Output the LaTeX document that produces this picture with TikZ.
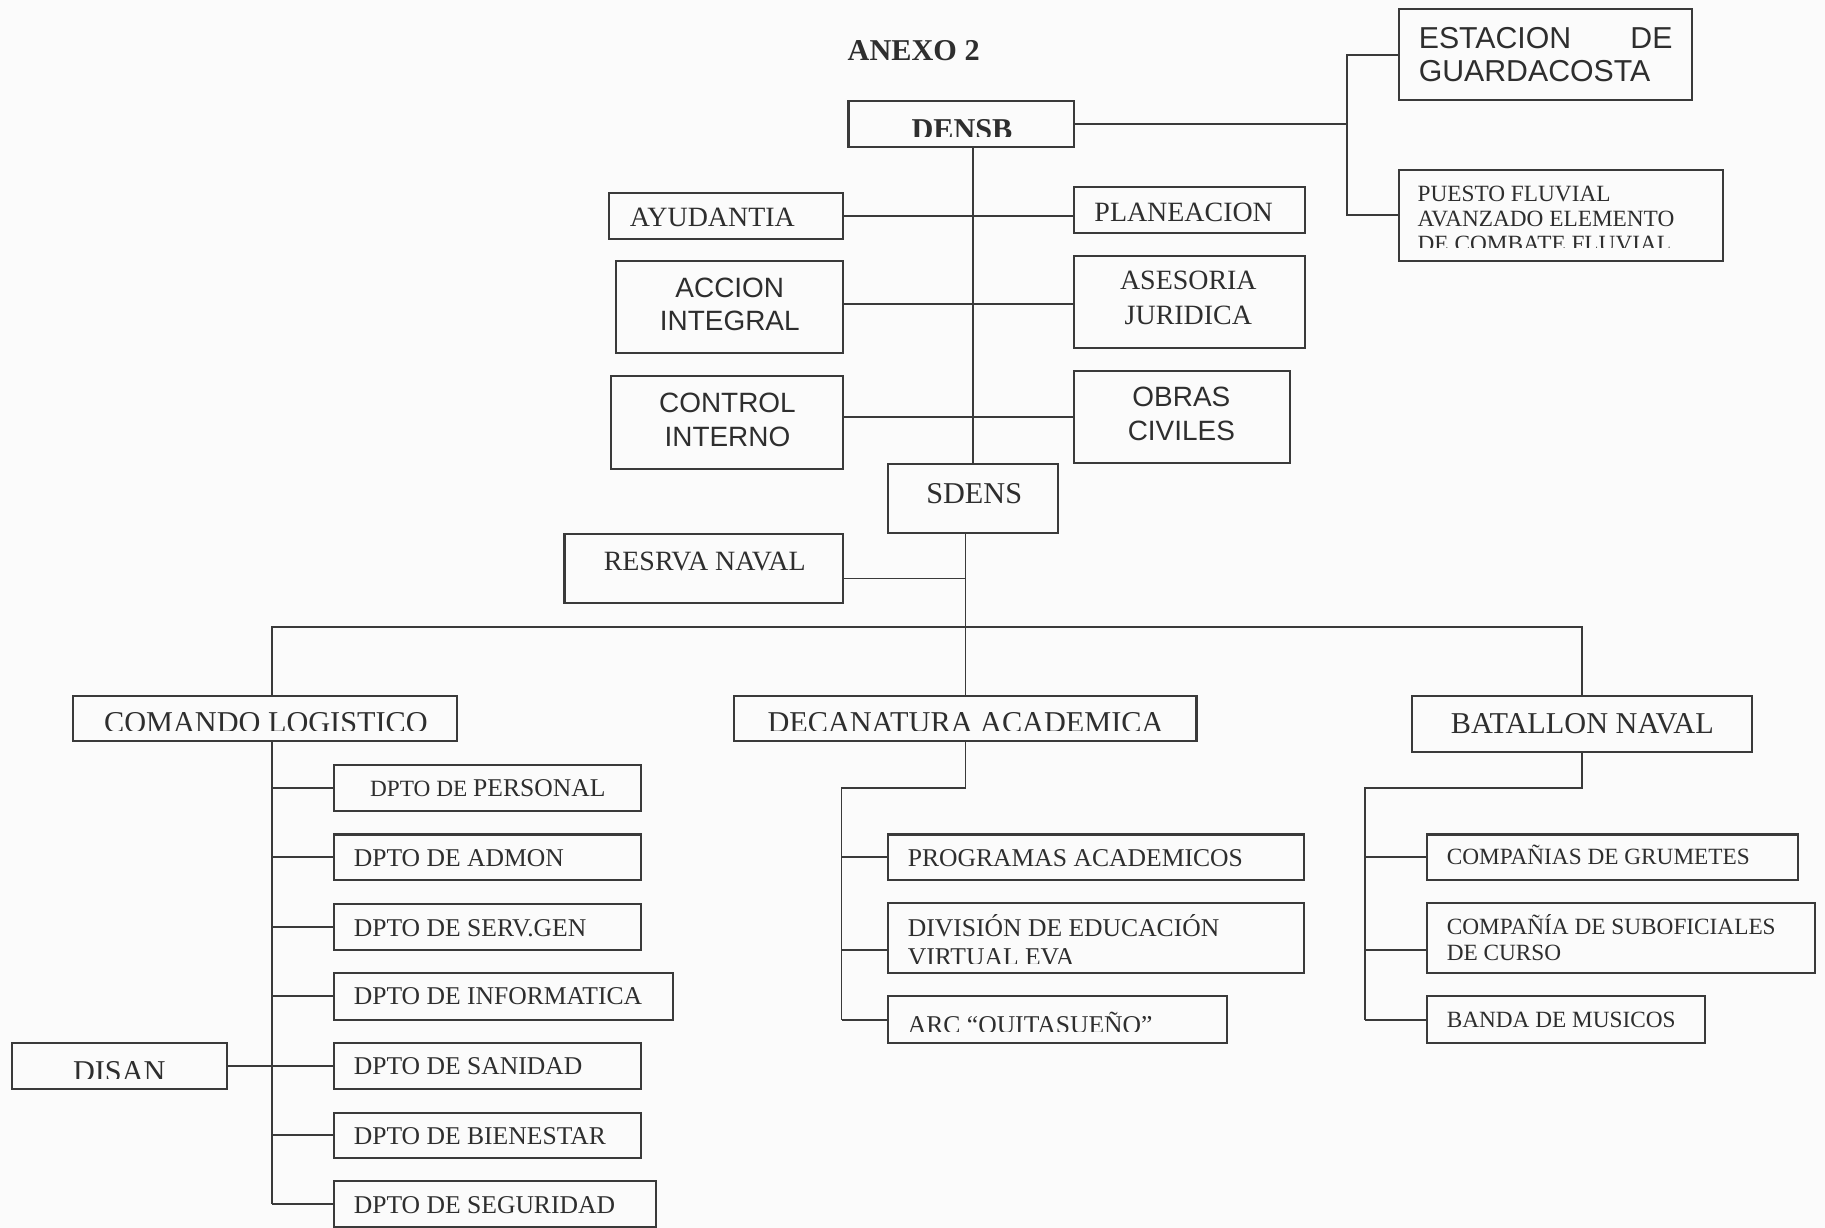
\documentclass[tikz,border=0pt]{standalone}
\usepackage{fontspec}
\setmainfont{Liberation Serif}
\newfontfamily\arialf{Liberation Sans}
\usetikzlibrary{fit}
\definecolor{ink}{HTML}{2E2E2E}
\definecolor{ln}{HTML}{3A3A3A}
\definecolor{paper}{HTML}{FBFBFB}
\tikzset{
  bx/.style={draw=ln, line width=0.9pt, inner sep=0pt, outer sep=0pt},
  cn/.style={draw=ln, line width=0.8pt},
  tx/.style={inner sep=0pt, outer sep=0pt, text=ink},
  tA/.style={tx, font=\fontsize{10}{12}\selectfont},
  tB/.style={tx, font=\fontsize{11}{13}\selectfont},
  tC/.style={tx, font=\fontsize{12}{14}\selectfont},
  tD/.style={tx, font=\fontsize{13}{15}\selectfont},
  aC/.style={tx, font=\arialf\fontsize{12}{14}\selectfont},
  aD/.style={tx, font=\arialf\fontsize{13}{15}\selectfont},
}
\newcommand\bxx[5]{\node[bx, fit={(#2,#3) (#4,#5)}] (#1) {};}
\begin{document}
\begin{tikzpicture}[x=0.5pt,y=-0.5pt]
\fill[paper] (0,0) rectangle (1568,1055);
\useasboundingbox (0,0) rectangle (1568,1055);

% ---------- boxes ----------
\bxx{densb}{729}{87}{923}{126}
\bxx{est}{1202}{8}{1454}{86}
\bxx{pue}{1202}{146}{1480}{224}
\bxx{ayud}{523}{166}{724}{205}
\bxx{plan}{923}{161}{1121}{200}
\bxx{acc}{529}{224}{724}{303}
\bxx{ases}{923}{220}{1121}{299}
\bxx{ctrl}{525}{323}{724}{403}
\bxx{obras}{923}{319}{1108}{398}
\bxx{sdens}{763}{399}{909}{458}
\bxx{res}{485}{459}{724}{518}
\bxx{com}{63}{598}{393}{637}
\bxx{deca}{631}{598}{1028}{637}
\bxx{bat}{1213}{598}{1505}{646}
\bxx{per}{287}{657}{551}{697}
\bxx{adm}{287}{717}{551}{756}
\bxx{serv}{287}{777}{551}{816}
\bxx{inf}{287}{836}{578}{876}
\bxx{san}{287}{896}{551}{936}
\bxx{bie}{287}{956}{551}{995}
\bxx{segu}{287}{1015}{564}{1054}
\bxx{disan}{10}{896}{195}{936}
\bxx{prog}{763}{717}{1120}{756}
\bxx{div}{763}{776}{1120}{836}
\bxx{arc}{763}{856}{1054}{896}
\bxx{grum}{1226}{717}{1545}{756}
\bxx{sub}{1226}{776}{1559}{836}
\bxx{banda}{1226}{856}{1465}{896}

% ---------- connectors ----------
\draw[cn] (densb.south -| sdens.north) -- (sdens.north);
\coordinate (rj) at (1157,106);
\draw[cn] (densb.east) -- (rj |- densb.east);
\draw[cn] (est.west) -| (rj) |- (pue.west);
\draw[cn] (ayud.east) -- (ayud.east -| plan.west);
\coordinate (accj) at ([yshift=1.2pt]acc.east);
\draw[cn] (accj) -- (accj -| ases.west);
\draw[cn] (obras.west) -- (obras.west -| ctrl.east);
\draw[cn] (sdens.south -| deca.north) -- (deca.north);
\coordinate (resj) at ([yshift=-4.25pt]res.east);
\draw[cn] (resj) -- (resj -| deca.north);
\coordinate (cx) at (234,539);
\draw[cn] (cx |- com.north) -- (cx) -- (cx -| bat.north) -- (bat.north);
\draw[cn] (cx |- com.south) -- (cx |- segu.west);
\foreach \n in {per,adm,serv,inf,san,bie,segu}{\draw[cn] (cx |- \n.west) -- (\n.west);}
\draw[cn] (disan.east) -- (san.west);
\coordinate (dk) at (723,677);
\draw[cn] (deca.south) -- (deca.south |- dk) -- (dk) -- (dk |- arc.west);
\draw[cn] (dk |- prog.west) -- (prog.west);
\coordinate (divj) at ([yshift=-5pt]div.west);
\draw[cn] (divj -| dk) -- (divj);
\draw[cn] (dk |- arc.west) -- (arc.west);
\coordinate (bk) at (1173,677);
\draw[cn] (bat.south) -- (bat.south |- bk) -- (bk) -- (bk |- banda.west);
\draw[cn] (bk |- grum.west) -- (grum.west);
\coordinate (subj) at ([yshift=-5pt]sub.west);
\draw[cn] (subj -| bk) -- (subj);
\draw[cn] (bk |- banda.west) -- (banda.west);

% ---------- texts ----------
\node[tD, font=\bfseries\fontsize{13}{15}\selectfont, anchor=base] (title) at (785,51.6) {ANEXO 2};
\begin{scope}
\clip (729,87) rectangle (923,117.5);
\node[tD, font=\bfseries\fontsize{13}{15}\selectfont, anchor=base] (densb-t) at (826.5,120) {DENSB};
\end{scope}
\node[aD, anchor=base west] (est-t1) at (1219,41.3) {\makebox[109pt][l]{ESTACION\hfill DE}};
\node[aD, anchor=base west] (est-t2) at (1219,70.3) {GUARDACOSTA};
\node[tA, anchor=base west] (pue-t1) at (1218,173) {PUESTO FLUVIAL};
\node[tA, anchor=base west] (pue-t2) at (1218,194.5) {AVANZADO ELEMENTO};
\begin{scope}
\clip (1202,146) rectangle (1480,213);
\node[tA, anchor=base west] (pue-t3) at (1218,216) {DE COMBATE FLUVIAL};
\end{scope}
\node[tC, anchor=base] (ayud-t) at (612,195) {AYUDANTIA};
\node[tC, anchor=base] (plan-t) at (1017,190) {PLANEACION};
\node[aC, anchor=base] (acc-t1) at (627,255.6) {ACCION};
\node[aC, anchor=base] (acc-t2) at (627,283.6) {INTEGRAL};
\node[tC, anchor=base] (ases-t1) at (1021,249) {ASESORIA};
\node[tC, anchor=base] (ases-t2) at (1021,279) {JURIDICA};
\node[aC, anchor=base] (ctrl-t1) at (625,354.6) {CONTROL};
\node[aC, anchor=base] (ctrl-t2) at (625,383.6) {INTERNO};
\node[aC, anchor=base] (obras-t1) at (1015,349.6) {OBRAS};
\node[aC, anchor=base] (obras-t2) at (1015,378.6) {CIVILES};
\node[tD, anchor=base] (sdens-t) at (837,432.6) {SDENS};
\node[tC, anchor=base] (res-t) at (605.5,490) {RESRVA NAVAL};
\begin{scope}
\clip (63,598) rectangle (393,627.5);
\node[tD, anchor=base] (com-t) at (228.5,629.5) {COMANDO LOGISTICO};
\end{scope}
\begin{scope}
\clip (631,598) rectangle (1028,627.5);
\node[tD, anchor=base] (deca-t) at (829.5,629.5) {DECANATURA ACADEMICA};
\end{scope}
\node[tD, anchor=base] (bat-t) at (1359.5,630.6) {BATALLON NAVAL};
\node[tB, anchor=base west] (per-t) at (318,684.3) {{\fontsize{10}{12}\selectfont DPTO DE }PERSONAL};
\node[tB, anchor=base west] (adm-t) at (304,744.3) {DPTO DE ADMON};
\node[tB, anchor=base west] (serv-t) at (304,804.3) {DPTO DE SERV.GEN};
\node[tB, anchor=base west] (inf-t) at (304,863.3) {DPTO DE INFORMATICA};
\node[tB, anchor=base west] (san-t) at (304,923.3) {DPTO DE SANIDAD};
\node[tB, anchor=base west] (bie-t) at (304,983.3) {DPTO DE BIENESTAR};
\node[tB, anchor=base west] (segu-t) at (304,1042.3) {DPTO DE SEGURIDAD};
\begin{scope}
\clip (10,896) rectangle (195,927);
\node[tD, anchor=base] (disan-t) at (102.5,929) {DISAN};
\end{scope}
\node[tB, anchor=base west] (prog-t) at (780,744.3) {PROGRAMAS ACADEMICOS};
\node[tB, anchor=base west] (div-t1) at (780,804.3) {DIVISIÓN DE EDUCACIÓN};
\begin{scope}
\clip (763,776) rectangle (1120,827.5);
\node[tB, anchor=base west] (div-t2) at (780,829.6) {VIRTUAL EVA};
\end{scope}
\begin{scope}
\clip (763,856) rectangle (1054,886);
\node[tB, anchor=base west] (arc-t) at (780,887.6) {ARC “QUITASUEÑO”};
\end{scope}
\node[tA, anchor=base west] (grum-t) at (1243,742.6) {COMPAÑIAS DE GRUMETES};
\node[tA, anchor=base west] (sub-t1) at (1243,802.6) {COMPAÑÍA DE SUBOFICIALES};
\node[tA, anchor=base west] (sub-t2) at (1243,825.6) {DE CURSO};
\node[tA, anchor=base west] (banda-t) at (1243,882.6) {BANDA DE MUSICOS};
\end{tikzpicture}
\end{document}
